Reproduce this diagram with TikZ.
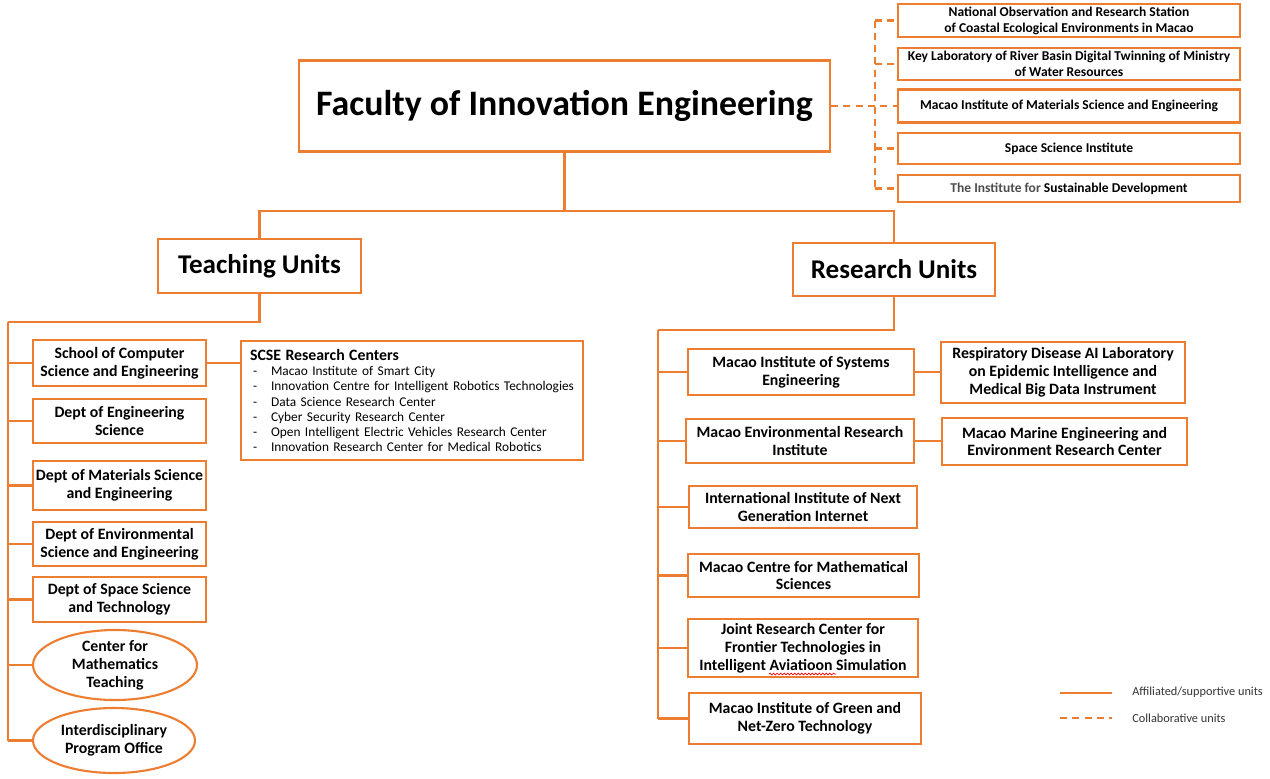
\documentclass[tikz,border=0pt]{standalone}
\usepackage{fontspec}
\setmainfont{Carlito}
\usepackage{xcolor}
\usepackage{tikz}
\usetikzlibrary{calc,shapes.geometric,decorations.pathmorphing}
\definecolor{fieorange}{HTML}{ED7D31}

\begin{document}
\begin{tikzpicture}[x=0.02cm, y=-0.02cm,
    unit/.style={draw=fieorange, line width=1.2pt, inner sep=0pt, align=center, font=\fontsize{9}{10.2}\selectfont\bfseries},
    collab/.style={unit, minimum width=6.84cm, font=\fontsize{7.7}{9}\selectfont\bfseries},
    head/.style={unit, font=\fontsize{15.4}{18}\selectfont\bfseries},
    legend/.style={anchor=west, inner sep=0pt, text=black!80, font=\fontsize{7}{8}\selectfont},
    link/.style={fieorange, line width=1.2pt},
    dlink/.style={link, dash pattern=on 4pt off 3pt}]
    \useasboundingbox (0,0) rectangle (1270,778);

    % faculty and its collaborative units
    \node[unit, minimum width=10.62cm, minimum height=1.82cm, font=\fontsize{20.4}{24}\selectfont\bfseries] (fie) at (564.5,106) {Faculty of Innovation Engineering};
    \node[collab, minimum height=0.66cm] (c1) at (1069,20.5) {National Observation and Research Station\\of Coastal Ecological Environments in Macao};
    \node[collab, minimum height=0.64cm] (c2) at (1069,64) {Key Laboratory of River Basin Digital Twinning of Ministry\\of Water Resources};
    \node[collab, minimum height=0.66cm] (c3) at (1069,106) {Macao Institute of Materials Science and Engineering};
    \node[collab, minimum height=0.62cm] (c4) at (1069,148.5) {Space Science Institute};
    \node[collab, minimum height=0.54cm] (c5) at (1069,188.5) {{\color{black!70}The Institute for} Sustainable Development};

    \node[head, minimum width=4.06cm, minimum height=1.08cm] (teach) at (259.5,266) {Teaching Units};
    \node[head, minimum width=4.04cm, minimum height=1.06cm] (res) at (894,269.5) {Research Units};

    % teaching side
    \node[unit, minimum width=3.46cm, minimum height=0.92cm] (school) at (119.5,363) {School of Computer\\Science and Engineering};
    \node[unit, minimum width=3.46cm, minimum height=0.88cm] (engsci) at (119.5,421) {Dept of Engineering\\Science};
    \node[unit, minimum width=3.46cm, minimum height=0.98cm] (matsci) at (119.5,485.5) {Dept of Materials Science\\and Engineering};
    \node[unit, minimum width=3.46cm, minimum height=0.88cm] (envsci) at (119.5,544) {Dept of Environmental\\Science and Engineering};
    \node[unit, minimum width=3.46cm, minimum height=0.90cm] (space) at (119.5,599.5) {Dept of Space Science\\and Technology};
    \node[unit, ellipse, minimum width=3.28cm, minimum height=1.32cm] (mathc) at (115,665) {Center for\\Mathematics\\Teaching};
    \node[unit, ellipse, minimum width=3.24cm, minimum height=1.30cm] (ipo) at (114,740.5) {Interdisciplinary\\Program Office};
    \node[unit, anchor=north west, align=left, inner xsep=0.07cm, inner ysep=0.14cm, text width=6.7cm, minimum height=2.38cm, font=\fontsize{7.6}{8.6}\selectfont] (scse) at (240,340) {%
        {\bfseries\fontsize{9}{11}\selectfont\hspace{0.11cm}SCSE Research Centers\par}
        \makebox[0.53cm][l]{\hspace{0.17cm}-}Macao Institute of Smart City\\
        \makebox[0.53cm][l]{\hspace{0.17cm}-}Innovation Centre for Intelligent Robotics Technologies\\
        \makebox[0.53cm][l]{\hspace{0.17cm}-}Data Science Research Center\\
        \makebox[0.53cm][l]{\hspace{0.17cm}-}Cyber Security Research Center\\
        \makebox[0.53cm][l]{\hspace{0.17cm}-}Open Intelligent Electric Vehicles Research Center\\
        \makebox[0.53cm][l]{\hspace{0.17cm}-}Innovation Research Center for Medical Robotics};

    % research side
    \node[unit, minimum width=4.52cm, minimum height=0.92cm] (sys) at (801,372) {Macao Institute of Systems\\Engineering};
    \node[unit, minimum width=4.56cm, minimum height=0.88cm] (envr) at (800,441) {Macao Environmental Research\\Institute};
    \node[unit, minimum width=4.56cm, minimum height=0.84cm] (iini) at (803,507) {International Institute of Next\\Generation Internet};
    \node[unit, minimum width=4.62cm, minimum height=0.86cm] (mcms) at (803.5,575.5) {Macao Centre for Mathematical\\Sciences};
    \node[unit, minimum width=4.60cm, minimum height=1.16cm] (joint) at (803,648) {Joint Research Center for\\Frontier Technologies in\\Intelligent Aviatioon Simulation};
    \node[unit, minimum width=4.64cm, minimum height=1.02cm] (green) at (805,718.5) {Macao Institute of Green and\\Net-Zero Technology};
    \node[unit, minimum width=4.88cm, minimum height=1.22cm] (resp) at (1063,372.5) {Respiratory Disease AI Laboratory\\on Epidemic Intelligence and\\Medical Big Data Instrument};
    \node[unit, minimum width=4.90cm, minimum height=0.94cm] (marine) at (1064.5,441.5) {Macao Marine Engineering and\\Environment Research Center};
    \draw[red, line width=0.4pt, decorate, decoration={snake, segment length=2pt, amplitude=0.5pt}] ($(joint.center)+(-34,26)$) -- ($(joint.center)+(33,26)$);

    % connectors
    \coordinate (split) at (564.5,211);
    \coordinate (tbus) at (8,322);
    \coordinate (rbus) at (658,330);
    \coordinate (cbus) at (875,106);
    \draw[link] (fie.south) -- (split);
    \draw[link] (teach.north) |- (split) -| (res.north);
    \draw[link] (teach.south) |- (tbus);
    \draw[link] (tbus) -- (ipo.west -| tbus);
    \foreach \n in {school,engsci,matsci,envsci,space,mathc,ipo}{
        \draw[link] (\n.west -| tbus) -- (\n.west);
    }
    \draw[link] (res.south) |- (rbus);
    \draw[link] (rbus) -- (green.west -| rbus);
    \foreach \n in {sys,envr,iini,mcms,joint,green}{
        \draw[link] (\n.west -| rbus) -- (\n.west);
    }
    \draw[link] (school.east) -- (school.east -| scse.west);
    \draw[link] (sys.east) -- (sys.east -| resp.west);
    \draw[link] (envr.east) -- (envr.east -| marine.west);
    \draw[dlink] (fie.east) -- (c3.west);
    \draw[dlink] (c1.west -| cbus) -- (c5.west -| cbus);
    \foreach \n in {c1,c2,c4,c5}{
        \draw[dlink] (\n.west -| cbus) -- (\n.west);
    }

    % legend
    \coordinate (la) at (1060,693);
    \coordinate (lb) at (1112,693);
    \coordinate (lc) at (1060,718);
    \coordinate (ld) at (1112,718);
    \draw[link] (la) -- (lb);
    \draw[dlink] (lc) -- (ld);
    \node[legend] (laff) at (1132,692) {Affiliated/supportive units};
    \node[legend] (lcol) at (1132,718) {Collaborative units};
\end{tikzpicture}
\end{document}
